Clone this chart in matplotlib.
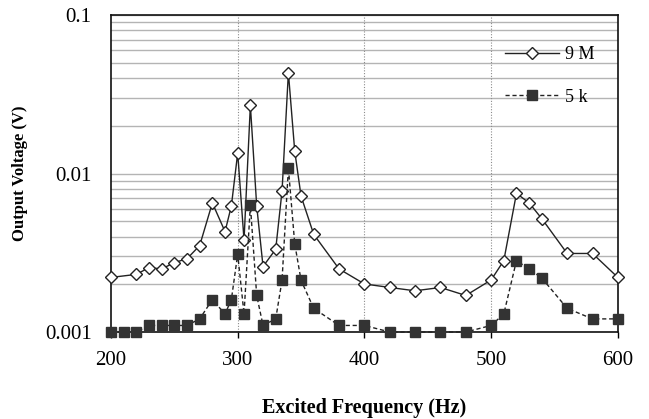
import matplotlib
matplotlib.use("Agg")
import matplotlib.pyplot as plt
from matplotlib.ticker import LogLocator, FixedLocator, NullFormatter

freq_9m = [200, 220, 230, 240, 250, 260, 270, 280, 290, 295, 300, 305, 310, 315, 320,
           330, 335, 340, 345, 350, 360, 380, 400, 420, 440, 460, 480, 500, 510, 520,
           530, 540, 560, 580, 600]
volt_9m = [0.00221, 0.00231, 0.00255, 0.0025, 0.00274, 0.0029, 0.00351, 0.00652, 0.0043,
           0.00624, 0.01346, 0.0038, 0.0269, 0.00624, 0.00259, 0.00333, 0.00776, 0.0433,
           0.01387, 0.0072, 0.00413, 0.0025, 0.00201, 0.00191, 0.00182, 0.00191, 0.0017,
           0.00213, 0.00282, 0.0075, 0.00652, 0.00519, 0.00313, 0.00313, 0.00221]

freq_5k = [200, 210, 220, 230, 240, 250, 260, 270, 280, 290, 295, 300, 305, 310, 315, 320,
           330, 335, 340, 345, 350, 360, 380, 400, 420, 440, 460, 480, 500, 510, 520,
           530, 540, 560, 580, 600]
volt_5k = [0.001, 0.001, 0.001, 0.0011, 0.0011, 0.0011, 0.0011, 0.00121, 0.0016, 0.0013,
           0.0016, 0.0031, 0.0013, 0.00633, 0.0017, 0.0011, 0.00121, 0.00212, 0.01084,
           0.00361, 0.00212, 0.00141, 0.0011, 0.0011, 0.001, 0.001, 0.001, 0.001, 0.0011,
           0.0013, 0.00282, 0.0025, 0.00219, 0.00141, 0.00121, 0.00121]

x_ticks = [200, 300, 400, 500, 600]
y_ticks = [0.001, 0.01, 0.1]
y_tick_labels = ["0.001", "0.01", "0.1"]

plt.rcParams['font.family'] = ['Liberation Serif', 'DejaVu Serif']

fig = plt.figure(figsize=(6.49, 4.19), dpi=100)
ax = fig.add_axes([0.171, 0.2076, 0.781, 0.7566])

ax.set_yscale('log')
ax.set_xlim(200, 600)
ax.set_ylim(0.001, 0.1)

# grids
ax.yaxis.set_minor_locator(LogLocator(base=10, subs=range(2, 10)))
ax.yaxis.set_minor_formatter(NullFormatter())
ax.grid(which='both', axis='y', color='#b4b4b4', linewidth=1.0, linestyle='-')
for xv in [300, 400, 500]:
    ax.axvline(xv, color='#8c8c8c', linewidth=0.8, linestyle=(0, (1, 1.5)), zorder=1)
ax.set_axisbelow(True)

ax.plot(freq_9m, volt_9m, '-', color='#222222', linewidth=1.0, marker='D',
        markersize=6.5, markerfacecolor='white', markeredgecolor='#222222',
        markeredgewidth=1.0, label='9 M', zorder=3, clip_on=False)
ax.plot(freq_5k, volt_5k, '--', color='#222222', linewidth=1.0, marker='s',
        markersize=7, markerfacecolor='#333333', markeredgecolor='#333333',
        dashes=(3, 2), label='5 k', zorder=4, clip_on=False)

ax.set_xticks(x_ticks)
ax.set_xticklabels([str(v) for v in x_ticks])
ax.yaxis.set_major_locator(FixedLocator(y_ticks))
ax.set_yticklabels(y_tick_labels)
ax.tick_params(axis='both', which='major', labelsize=15, direction='out', length=4,
               width=1)
ax.tick_params(axis='y', which='major', length=0, pad=14)
ax.tick_params(axis='y', which='minor', length=0)
ax.tick_params(axis='x', pad=10)

for s in ax.spines.values():
    s.set_color('#111111')
    s.set_linewidth(1.2)

ax.set_xlabel('Excited Frequency (Hz)', fontsize=14.5, fontweight='bold', labelpad=20)
ax.set_ylabel('Output Voltage (V)', fontsize=12, fontweight='bold', labelpad=12)

leg = ax.legend(loc='upper right', frameon=False, fontsize=13, handlelength=3.0,
                labelspacing=1.4, borderaxespad=0.9, handletextpad=0.3,
                bbox_to_anchor=(1.0, 0.975))

fig.savefig('out.png', dpi=100, facecolor='white')
